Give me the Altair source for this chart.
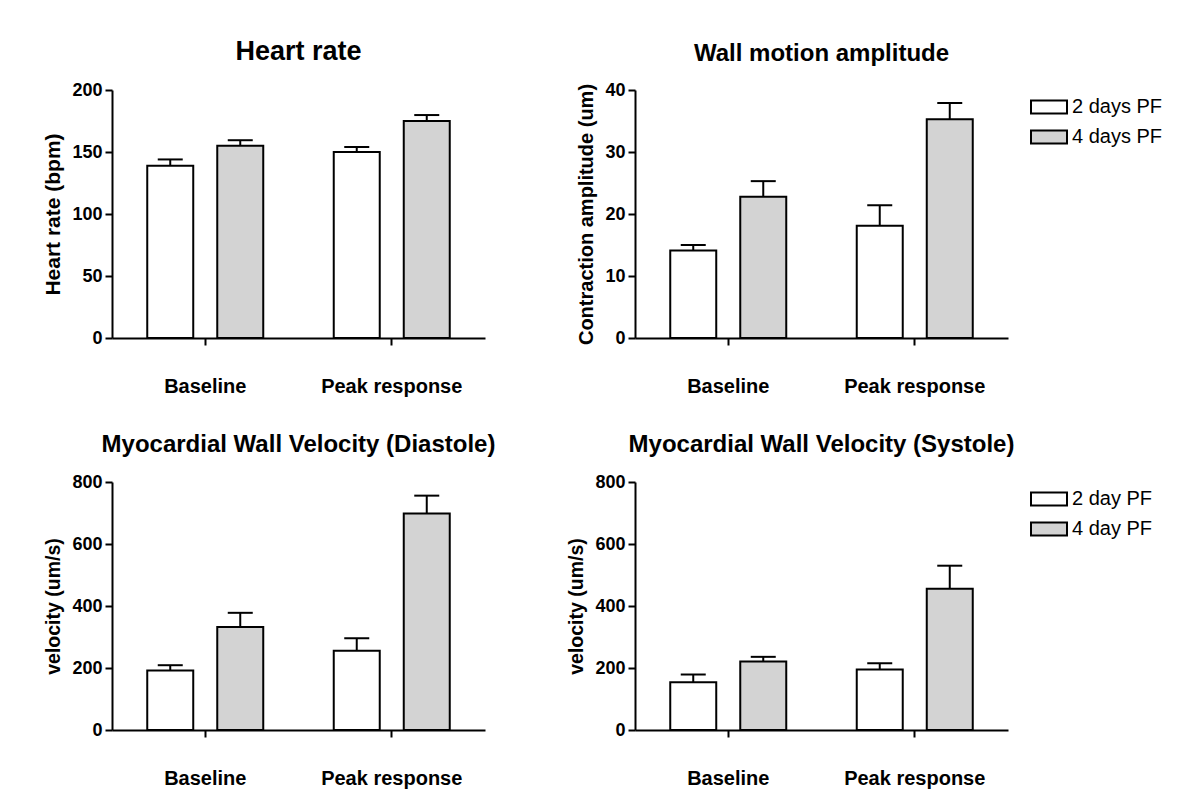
import altair as alt
import pandas as pd

FONT = "Liberation Sans, Arial, Helvetica, sans-serif"

categories = ["Baseline", "Peak response"]

# Heart rate (bpm)
hr_2d = [139, 150]
hr_2d_sem = [5, 4]
hr_4d = [155, 175]
hr_4d_sem = [4.5, 4.8]

# Wall motion amplitude (um)
wm_2d = [14.1, 18.1]
wm_2d_sem = [0.9, 3.3]
wm_4d = [22.8, 35.3]
wm_4d_sem = [2.5, 2.6]

# Myocardial wall velocity, diastole (um/s)
dia_2d = [192, 256]
dia_2d_sem = [17, 40]
dia_4d = [332, 698]
dia_4d_sem = [46, 58]

# Myocardial wall velocity, systole (um/s)
sys_2d = [154, 195]
sys_2d_sem = [25, 20]
sys_4d = [221, 456]
sys_4d_sem = [15, 74]

groups_days = ["2 days PF", "4 days PF"]
groups_day = ["2 day PF", "4 day PF"]

fill_colors = ["white", "#d3d3d3"]

LEGEND_PATH = "M-2,-0.72L2,-0.72L2,0.72L-2,0.72Z"


def panel(m2, s2, m4, s4, groups, title, tsize, toffset, ytitle, ytsize, ymax, yvals, show_legend):
    rows = []
    for i, c in enumerate(categories):
        rows.append({"cat": c, "group": groups[0], "mean": m2[i], "upper": m2[i] + s2[i]})
        rows.append({"cat": c, "group": groups[1], "mean": m4[i], "upper": m4[i] + s4[i]})
    df = pd.DataFrame(rows)
    base = alt.Chart(df)
    xs = alt.Scale(domain=categories, paddingInner=0.378, paddingOuter=0.189)
    xos = alt.Scale(domain=groups, paddingInner=0.343, paddingOuter=0)
    ys = alt.Scale(domain=[0, ymax], nice=False)
    x = alt.X("cat:N", scale=xs, title=None, axis=alt.Axis(labelAngle=0))
    xo = alt.XOffset("group:N", scale=xos)
    if show_legend:
        legend = alt.Legend(
            title=None, orient="none", legendX=404, legendY=7,
            symbolType=LEGEND_PATH, symbolSize=324,
            symbolStrokeColor="black", symbolStrokeWidth=2, symbolOpacity=1,
            labelFont=FONT, labelFontSize=20, labelFontWeight="normal",
            labelColor="black", labelOffset=13, rowPadding=8, padding=0,
        )
    else:
        legend = None
    fill = alt.Fill("group:N", scale=alt.Scale(domain=groups, range=fill_colors), legend=legend)
    bars = base.mark_bar(stroke="black", strokeWidth=2, opacity=1).encode(
        x=x, xOffset=xo,
        y=alt.Y("mean:Q", scale=ys, title=ytitle,
                axis=alt.Axis(values=yvals, grid=False, titleFontSize=ytsize)),
        fill=fill,
    )
    rules = base.mark_rule(color="black", strokeWidth=2).encode(
        x=x, xOffset=xo, y=alt.Y("mean:Q", scale=ys), y2="upper:Q"
    )
    caps = base.mark_tick(color="black", thickness=2, size=25, opacity=1).encode(
        x=x, xOffset=xo, y=alt.Y("upper:Q", scale=ys)
    )
    return alt.layer(bars, rules, caps).properties(
        width=373, height=248,
        title=alt.Title(title, fontSize=tsize, font=FONT, fontWeight="bold", color="black",
                        anchor="middle", frame="group", baseline="alphabetic", offset=toffset),
    )


p1 = panel(hr_2d, hr_2d_sem, hr_4d, hr_4d_sem, groups_days, "Heart rate", 27, -6,
           "Heart rate (bpm)", 21, 200, [0, 50, 100, 150, 200], False)
p2 = panel(wm_2d, wm_2d_sem, wm_4d, wm_4d_sem, groups_days, "Wall motion amplitude", 24, -4,
           "Contraction amplitude (um)", 20, 40, [0, 10, 20, 30, 40], True)
p3 = panel(dia_2d, dia_2d_sem, dia_4d, dia_4d_sem, groups_day, "Myocardial Wall Velocity (Diastole)", 24, -3,
           "velocity (um/s)", 19.5, 800, [0, 200, 400, 600, 800], False)
p4 = panel(sys_2d, sys_2d_sem, sys_4d, sys_4d_sem, groups_day, "Myocardial Wall Velocity (Systole)", 24, -3,
           "velocity (um/s)", 19.5, 800, [0, 200, 400, 600, 800], True)

chart = (
    alt.concat(p1, p2, p3, p4, columns=2, spacing={"row": 37, "column": 70})
    .resolve_scale(fill="independent", x="independent", y="independent", xOffset="independent")
    .resolve_legend(fill="independent")
    .properties(padding={"left": 34, "top": 30, "right": 5, "bottom": 5}, background="white")
    .configure_view(stroke=None)
    .configure_axis(
        domainColor="black", domainWidth=2, tickColor="black", tickWidth=2, tickSize=7,
        labelColor="black", titleColor="black", labelFont=FONT, titleFont=FONT,
        labelFontWeight="bold", titleFontWeight="bold",
    )
    .configure_axisX(labelFontSize=20, labelPadding=31)
    .configure_axisY(labelFontSize=18, labelPadding=3, titlePadding=8)
)

chart.save("out.html", embed_options={"renderer": "svg", "actions": False})
